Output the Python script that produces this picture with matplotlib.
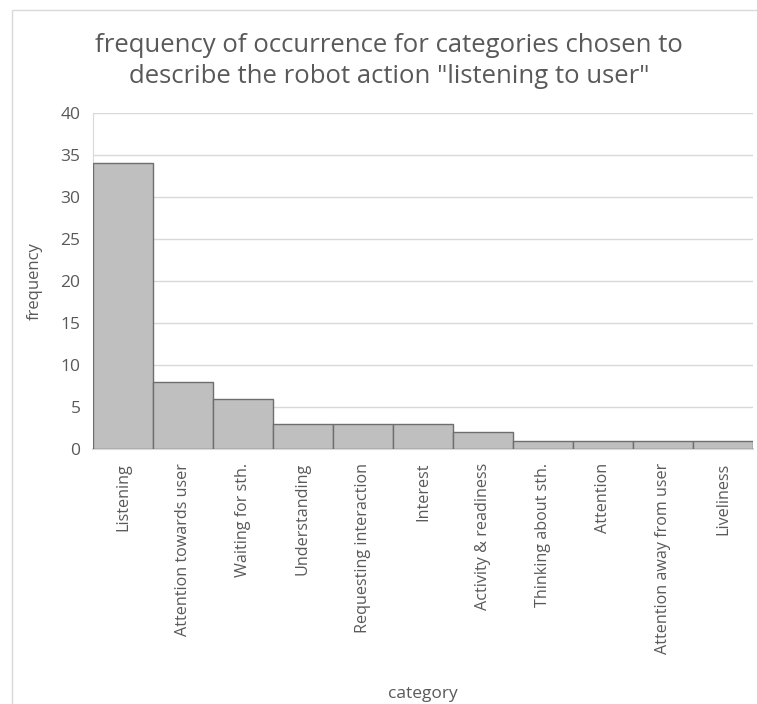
import matplotlib
matplotlib.use("Agg")
import matplotlib.pyplot as plt
from matplotlib.patches import Rectangle

categories = ["Listening", "Attention towards user", "Waiting for sth.", "Understanding",
              "Requesting interaction", "Interest", "Activity & readiness",
              "Thinking about sth.", "Attention", "Attention away from user", "Liveliness"]
frequency = [34, 8, 6, 3, 3, 3, 2, 1, 1, 1, 1]
y_ticks = [0, 5, 10, 15, 20, 25, 30, 35, 40]

plt.rcParams['font.family'] = ['Open Sans', 'DejaVu Sans']
txt = '#595959'
W, H = 757, 704
fig = plt.figure(figsize=(W/100, H/100), dpi=100)
fig.patches.append(Rectangle((12/W, -0.1), 1.2, 1 - 10/H + 0.1, transform=fig.transFigure,
                             fill=False, edgecolor='#D9D9D9', linewidth=1))
ax = fig.add_axes([93/W, 1 - 449/H, (753-93)/W, (449-113)/H])
x = list(range(len(categories)))
ax.bar(x, frequency, width=1.0, color='#BFBFBF', edgecolor='#6E6E6E', linewidth=1, zorder=3)
ax.set_xlim(-0.5, len(categories) - 0.5)
ax.set_ylim(0, 40)
ax.set_yticks(y_ticks)
ax.yaxis.grid(True, color='#D9D9D9', linewidth=1, zorder=0)
ax.set_axisbelow(True)
for s in ['top', 'right']:
    ax.spines[s].set_visible(False)
ax.spines['left'].set_color('#D9D9D9')
ax.spines['bottom'].set_color('#D9D9D9')
ax.spines['bottom'].set_linewidth(1.5)
ax.tick_params(axis='y', length=0, colors=txt, labelsize=12.5, pad=9)
ax.tick_params(axis='x', length=0, colors=txt, labelsize=11.6, pad=10)
ax.set_xticks(x)
ax.set_xticklabels(categories, rotation=90, va='top', ha='center')
ax.set_ylabel('frequency', color=txt, fontsize=12)
ax.yaxis.set_label_coords(-(93-43)/(753-93), (449-281)/(449-113))
ax.set_xlabel('category', color=txt, fontsize=12.5)
ax.xaxis.set_label_coords((423-93)/(753-93), -(686-449)/(449-113))
fig.text(389/W, 1 - 61/H, 'frequency of occurrence for categories chosen to\ndescribe the robot action "listening to user"',
         ha='center', va='center', color=txt, fontsize=18.5, linespacing=1.3)
fig.savefig('out.png', dpi=100)
